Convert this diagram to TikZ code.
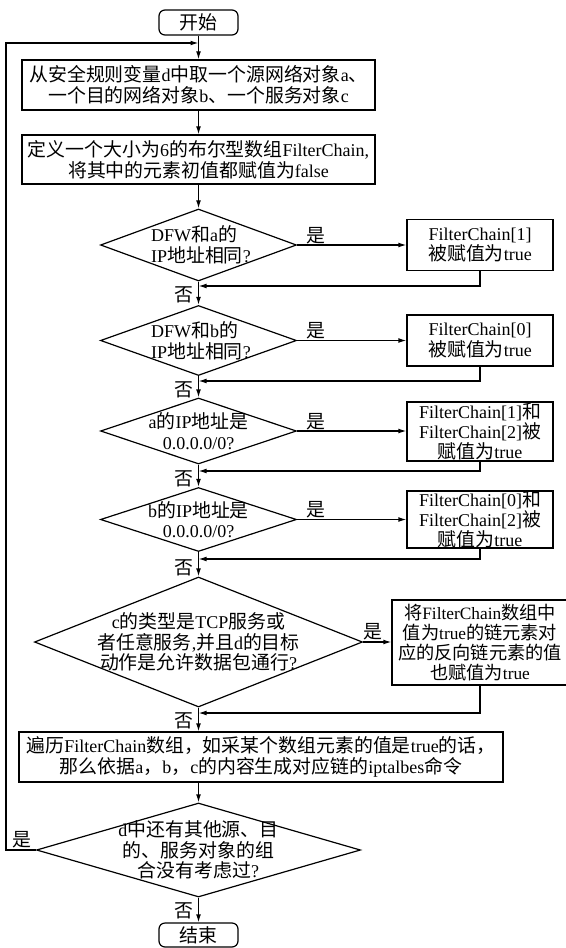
\documentclass[tikz,border=0pt]{standalone}
\usepackage{fontspec}
\setmainfont{Liberation Serif}
\newfontfamily\cjk[Scale=1.05]{Noto Sans CJK SC}
\XeTeXinterchartokenstate=1
\newXeTeXintercharclass\cjkcls
\newcount\cjkcc
\cjkcc="4E00 \loop\XeTeXcharclass\cjkcc=\cjkcls \ifnum\cjkcc<"9FFF \advance\cjkcc by 1 \repeat
\cjkcc="3000 \loop\XeTeXcharclass\cjkcc=\cjkcls \ifnum\cjkcc<"303F \advance\cjkcc by 1 \repeat
\cjkcc="FF00 \loop\XeTeXcharclass\cjkcc=\cjkcls \ifnum\cjkcc<"FFEF \advance\cjkcc by 1 \repeat
\XeTeXinterchartoks 0 \cjkcls = {\cjk}
\XeTeXinterchartoks 4095 \cjkcls = {\cjk}
\XeTeXinterchartoks \cjkcls 0 = {\rmfamily}
\XeTeXinterchartoks \cjkcls 4095 = {\rmfamily}
\usetikzlibrary{shapes.geometric,arrows.meta}
\newcommand\pu[1]{#1*0.75pt}
\newcommand\nf{\fontsize{13.5}{15.5}\selectfont}
\newcommand\nft{\fontsize{13.5}{13.5}\selectfont}
\newcommand\nfs{\fontsize{13}{15}\selectfont}
\tikzset{
  conn/.style={line width=0.9pt},
  arr/.style={line width=0.9pt,-{Latex[length=6pt,width=3.6pt]}},
  box/.style={draw,line width=0.9pt,rectangle,inner sep=0pt,align=center},
  term/.style={box,rounded corners=4.5pt},
  dia/.style={draw,line width=0.9pt,diamond,inner sep=0pt},
  txt/.style={inner sep=0pt,align=center},
  lab/.style={inner sep=0pt},
}
\begin{document}
\begin{tikzpicture}[x=0.75pt,y=-0.75pt,font=\nf]
\useasboundingbox (0,0) rectangle (565,948);
% main column
\node[term,minimum width=\pu{79},minimum height=\pu{25}] (start) at (198.5,22.5) {开始};
\node[box,minimum width=\pu{353},minimum height=\pu{50}] (b1) at (198.5,85) {从安全规则变量d中取一个源网络对象a、\\一个目的网络对象b、一个服务对象c};
\node[box,minimum width=\pu{353},minimum height=\pu{49}] (b2) at (198.5,159.5) {定义一个大小为6的布尔型数组FilterChain,\\将其中的元素初值都赋值为false};
% decision 1
\node[dia,minimum width=\pu{196},minimum height=\pu{72}] (d1) at (198.5,245) {};
\node[txt,align=left] (d1t) at (201,245) {DFW和a的\\IP地址相同?};
\node[box,minimum width=\pu{146},minimum height=\pu{51}] (rb1) at (480,245) {FilterChain[1]\\被赋值为true};
% decision 2
\node[dia,minimum width=\pu{196},minimum height=\pu{70}] (d2) at (198.5,340.5) {};
\node[txt,align=left] (d2t) at (201,340.5) {DFW和b的\\IP地址相同?};
\node[box,minimum width=\pu{146},minimum height=\pu{51}] (rb2) at (480,340.5) {FilterChain[0]\\被赋值为true};
% decision 3
\node[dia,minimum width=\pu{196},minimum height=\pu{66}] (d3) at (198.5,431) {};
\node[txt] (d3t) at (198.5,431) {a的IP地址是\\0.0.0.0/0?};
\node[box,font=\nft,minimum width=\pu{146},minimum height=\pu{59}] (rb3) at (480,431.5) {FilterChain[1]和\\FilterChain[2]被\\赋值为true};
% decision 4
\node[dia,minimum width=\pu{196},minimum height=\pu{64}] (d4) at (198.5,519.5) {};
\node[txt] (d4t) at (198.5,519.5) {b的IP地址是\\0.0.0.0/0?};
\node[box,font=\nft,minimum width=\pu{146},minimum height=\pu{57}] (rb4) at (480,519.5) {FilterChain[0]和\\FilterChain[2]被\\赋值为true};
% decision 5
\node[dia,minimum width=\pu{328},minimum height=\pu{130}] (d5) at (198.5,642) {};
\node[txt] (d5t) at (198.5,642) {c的类型是TCP服务或\\者任意服务,并且d的目标\\动作是允许数据包通行?};
\node[box,font=\nfs,minimum width=\pu{176},minimum height=\pu{85}] (rb5) at (480,642.5) {将FilterChain数组中\\值为true的链元素对\\应的反向链元素的值\\也赋值为true};
% traverse box
\node[box,minimum width=\pu{484},minimum height=\pu{50}] (b6) at (261,757) {遍历FilterChain数组，如采某个数组元素的值是true的话，\\那么依据a，b，c的内容生成对应链的iptalbes命令};
% decision 6
\node[dia,minimum width=\pu{324},minimum height=\pu{94}] (d6) at (198.5,850) {};
\node[txt] (d6t) at (198.5,850) {d中还有其他源、目\\的、服务对象的组\\合没有考虑过?};
\node[term,minimum width=\pu{79},minimum height=\pu{24}] (end) at (198.5,935) {结束};
% junction coordinates
\coordinate (lp) at (198.5,43);
\coordinate (r1) at (198.5,286);
\coordinate (r2) at (198.5,381);
\coordinate (r3) at (198.5,471);
\coordinate (r4) at (198.5,559);
\coordinate (r5) at (198.5,713);
% main flow
\draw[arr] (start) -- (b1);
\draw[arr] (b1) -- (b2);
\draw[arr] (b2) -- (d1);
\draw[arr] (d1) -- (d2);
\draw[arr] (d2) -- (d3);
\draw[arr] (d3) -- (d4);
\draw[arr] (d4) -- (d5);
\draw[arr] (d5.south) -- (d5.south |- b6.north);
\draw[arr] (d6.north |- b6.south) -- (d6.north);
\draw[arr] (d6) -- (end);
% yes branches
\draw[arr] (d1.east) -- (d1.east -| rb1.west);
\draw[arr] (d2.east) -- (d2.east -| rb2.west);
\draw[arr] (d3.east) -- (d3.east -| rb3.west);
\draw[arr] (d4.east) -- (d4.east -| rb4.west);
\draw[arr] (d5.east) -- (d5.east -| rb5.west);
% returns
\draw[arr] (rb1.south) |- (r1);
\draw[arr] (rb2.south) |- (r2);
\draw[arr] (rb3.south) |- (r3);
\draw[arr] (rb4.south) |- (r4);
\draw[arr] (rb5.south) |- (r5);
% loop back
\draw[arr] (d6.west) -- ++(-30,0) |- (lp);
% labels
\node[lab,anchor=south] (y1) at (316,244) {是};
\node[lab,anchor=south] (y2) at (316,339.5) {是};
\node[lab,anchor=south] (y3) at (316,430) {是};
\node[lab,anchor=south] (y4) at (316,518.5) {是};
\node[lab,anchor=south] (y5) at (373,640) {是};
\node[lab,anchor=south] (y6) at (22,848) {是};
\node[lab,anchor=east] (n1) at (194,295) {否};
\node[lab,anchor=east] (n2) at (194,390) {否};
\node[lab,anchor=east] (n3) at (194,479) {否};
\node[lab,anchor=east] (n4) at (194,568) {否};
\node[lab,anchor=east] (n5) at (194,721) {否};
\node[lab,anchor=east] (n6) at (194,911) {否};
\end{tikzpicture}
\end{document}
